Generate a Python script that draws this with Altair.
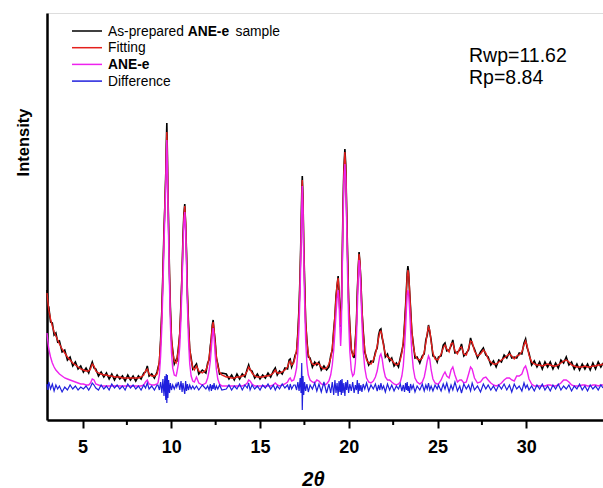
import altair as alt
import pandas as pd

# ---- data (intensity in arbitrary units) ----
two_theta = [
    3.0, 3.05, 3.1, 3.2, 3.3, 3.4, 3.5, 3.6, 3.7, 3.85,
    4.0, 4.15, 4.3, 4.45, 4.6, 4.75, 4.9, 5.05, 5.2, 5.35,
    5.45, 5.55, 5.65, 5.75, 5.9, 6.05, 6.2, 6.35, 6.5, 6.65,
    6.8, 6.95, 7.1, 7.25, 7.4, 7.55, 7.7, 7.85, 8.0, 8.15,
    8.3, 8.45, 8.55, 8.65, 8.75, 8.9, 9.05, 9.2,
    9.25, 9.33, 9.4, 9.47, 9.53, 9.59, 9.64, 9.69, 9.72, 9.75,
    9.78, 9.81, 9.85, 9.9, 9.95, 10.01, 10.08, 10.17, 10.27,
    10.31, 10.4, 10.48, 10.55, 10.61, 10.66, 10.71, 10.76, 10.81, 10.86,
    10.91, 10.97, 11.04, 11.12, 11.21,
    11.3, 11.42, 11.55, 11.75, 11.95,
    12.05, 12.13, 12.2, 12.26, 12.31, 12.36, 12.41, 12.47, 12.54, 12.62,
    12.72, 12.85,
    13.1, 13.25, 13.4, 13.55, 13.7, 13.85, 14.0, 14.15, 14.28, 14.36,
    14.44, 14.55, 14.7, 14.85, 15.0, 15.15, 15.3, 15.45, 15.6, 15.75,
    15.86, 15.97, 16.1, 16.25, 16.4, 16.55, 16.64, 16.7, 16.78, 16.9,
    16.98, 17.06, 17.13, 17.2, 17.26, 17.31, 17.35, 17.38, 17.42, 17.46,
    17.51, 17.57, 17.64, 17.72, 17.82, 17.95, 18.08, 18.2, 18.32, 18.45,
    18.6, 18.75,
    18.88, 18.98, 19.07, 19.15, 19.22, 19.28, 19.34, 19.4, 19.45, 19.5,
    19.54, 19.58, 19.62, 19.67, 19.72, 19.78, 19.83, 19.88, 19.93, 19.99,
    20.06, 20.14, 20.22, 20.3, 20.37, 20.43, 20.48, 20.53, 20.58, 20.63,
    20.68, 20.74, 20.81, 20.9, 21.0, 21.12, 21.25,
    21.38, 21.5, 21.6, 21.68, 21.75, 21.81, 21.88, 21.96, 22.06, 22.18,
    22.3, 22.42, 22.55, 22.68, 22.8, 22.9, 22.99, 23.07, 23.14, 23.2,
    23.25, 23.29, 23.33, 23.37, 23.42, 23.48, 23.55, 23.63, 23.73, 23.85,
    24.0, 24.14, 24.25, 24.34, 24.42, 24.49, 24.56, 24.64, 24.74, 24.86,
    24.98,
    25.05, 25.2, 25.32, 25.42, 25.52, 25.65, 25.76, 25.86, 25.98, 26.12,
    26.25, 26.35, 26.48, 26.62, 26.75, 26.86, 26.95, 27.08, 27.25, 27.42,
    27.58, 27.72, 27.85, 28.0, 28.15, 28.3, 28.45, 28.6, 28.75, 28.9,
    29.05, 29.18, 29.32, 29.46, 29.6, 29.75, 29.87, 29.96, 30.05, 30.15,
    30.3, 30.45, 30.6, 30.75, 30.9, 31.05, 31.2, 31.35, 31.5, 31.65,
    31.8, 31.95, 32.1, 32.25, 32.4, 32.55, 32.7, 32.85, 33.0, 33.15,
    33.3, 33.45, 33.6, 33.75, 33.9, 34.05, 34.2, 34.32,
]

observed = [
    130, 115, 113, 98, 97, 85, 87, 78, 79, 68,
    70, 60, 63, 54, 58, 51, 54, 48, 52, 47,
    53, 58, 52, 51, 44, 48, 43, 47, 41, 46,
    40, 45, 41, 44, 39, 45, 40, 44, 39, 44,
    41, 47, 48, 54, 44, 46, 42, 48,
    52, 57, 80, 110, 148, 189, 215, 246, 275, 297,
    268, 229, 195, 146, 113, 81, 70, 56, 60,
    58, 72, 86, 118, 148, 183, 206, 216, 196, 167,
    125, 97, 70, 62, 51,
    53, 56, 46, 50, 47,
    57, 60, 74, 82, 95, 100, 89, 80, 62, 56,
    46, 47,
    46, 41, 45, 40, 46, 41, 46, 43, 51, 55,
    50, 49, 42, 46, 41, 45, 42, 47, 43, 49,
    52, 45, 49, 46, 52, 51, 60, 61, 53, 59,
    65, 68, 87, 113, 148, 188, 226, 244, 222, 177,
    140, 98, 80, 63, 62, 53, 58, 55, 58, 50,
    54, 50,
    53, 64, 70, 90, 103, 124, 134, 144, 128, 108,
    93, 112, 147, 208, 250, 271, 255, 209, 168, 119,
    94, 70, 66, 62, 80, 96, 128, 150, 168, 156,
    140, 110, 90, 68, 62, 55, 59,
    58, 68, 72, 85, 90, 91, 82, 76, 63, 66,
    59, 62, 54, 57, 53, 62, 69, 76, 96, 114,
    132, 147, 154, 148, 130, 112, 88, 77, 62, 63,
    57, 64, 66, 80, 85, 95, 88, 80, 64, 63,
    58,
    63, 64, 75, 77, 69, 70, 74, 80, 67, 68,
    70, 76, 64, 67, 70, 82, 76, 71, 62, 68,
    72, 65, 63, 55, 59, 53, 60, 58, 65, 62,
    68, 62, 63, 62, 67, 66, 77, 81, 72, 67,
    55, 59, 53, 58, 51, 58, 53, 58, 51, 57,
    52, 60, 57, 63, 55, 58, 51, 56, 50, 56,
    51, 56, 50, 57, 51, 58, 53, 57,
]

fitting = [
    127, 118, 110, 101, 94, 88, 84, 80, 76, 71,
    67, 63, 60, 57, 55, 53, 51, 50, 49, 49,
    51, 56, 54, 49, 47, 46, 45, 45, 44, 44,
    43, 43, 43, 42, 42, 42, 42, 42, 42, 42,
    43, 45, 49, 51, 46, 44, 44, 46,
    50, 60, 78, 108, 145, 186, 217, 243, 268, 288,
    264, 232, 192, 148, 110, 84, 68, 59, 57,
    60, 70, 88, 115, 150, 180, 204, 214, 198, 165,
    128, 95, 72, 60, 53,
    50, 54, 49, 47, 50,
    55, 62, 72, 84, 93, 98, 91, 78, 64, 54,
    48, 45,
    43, 43, 42, 42, 43, 43, 44, 45, 49, 53,
    51, 47, 44, 43, 43, 43, 44, 44, 45, 47,
    50, 47, 47, 48, 50, 53, 58, 59, 55, 57,
    63, 70, 85, 110, 145, 185, 222, 240, 220, 180,
    138, 100, 78, 66, 60, 56, 55, 57, 56, 53,
    51, 52,
    56, 62, 72, 88, 105, 122, 136, 142, 130, 106,
    95, 110, 150, 205, 248, 268, 252, 212, 165, 122,
    92, 72, 64, 66, 78, 98, 125, 152, 166, 158,
    138, 112, 88, 70, 60, 57, 56,
    60, 66, 74, 82, 88, 89, 84, 74, 66, 63,
    62, 60, 57, 55, 56, 60, 67, 78, 94, 112,
    130, 144, 150, 146, 132, 110, 90, 75, 65, 61,
    60, 62, 68, 77, 87, 93, 90, 78, 67, 61,
    60,
    61, 66, 72, 75, 71, 68, 76, 77, 69, 66,
    72, 73, 66, 65, 72, 79, 78, 69, 64, 66,
    70, 67, 61, 58, 56, 56, 58, 60, 62, 64,
    66, 64, 61, 64, 65, 68, 75, 79, 74, 65,
    58, 56, 55, 55, 54, 55, 56, 55, 54, 54,
    55, 57, 59, 60, 58, 55, 54, 53, 53, 53,
    54, 53, 53, 54, 54, 55, 55, 56,
]

ane_e = [
    87, 78, 71, 63, 57, 53, 50, 48, 46, 44,
    42, 41, 40, 39, 38, 37, 36, 36, 35, 35,
    37, 41, 40, 36, 35, 34, 34, 34, 34, 34,
    34, 34, 34, 34, 34, 34, 34, 34, 34, 34,
    34, 35, 38, 40, 36, 35, 35, 36,
    37, 45, 64, 94, 132, 174, 206, 233, 258, 280,
    254, 222, 180, 134, 96, 68, 52, 45, 44,
    47, 56, 74, 102, 138, 170, 196, 208, 190, 154,
    114, 80, 56, 44, 39,
    38, 43, 37, 35, 37,
    42, 49, 59, 72, 84, 92, 83, 66, 51, 41,
    36, 34,
    34, 34, 34, 34, 34, 34, 34, 35, 37, 40,
    39, 36, 34, 34, 34, 34, 34, 34, 34, 35,
    37, 35, 34, 35, 36, 38, 41, 42, 39, 40,
    45, 52, 68, 94, 130, 172, 212, 234, 210, 166,
    120, 80, 56, 45, 40, 38, 37, 40, 39, 36,
    35, 36,
    39, 45, 55, 70, 88, 106, 121, 130, 118, 92,
    74, 90, 135, 190, 236, 256, 240, 196, 146, 100,
    68, 50, 44, 46, 57, 80, 110, 140, 160, 152,
    128, 98, 70, 52, 42, 38, 37,
    39, 43, 49, 57, 64, 66, 61, 51, 43, 40,
    40, 38, 36, 35, 36, 38, 44, 54, 72, 92,
    112, 125, 130, 126, 112, 90, 68, 52, 42, 38,
    36, 38, 43, 51, 59, 64, 61, 50, 41, 37,
    36,
    36, 40, 45, 48, 44, 42, 50, 53, 45, 38,
    40, 40, 37, 38, 46, 53, 51, 42, 37, 38,
    42, 43, 40, 37, 35, 34, 35, 37, 40, 42,
    42, 40, 39, 44, 44, 46, 52, 54, 49, 41,
    36, 34, 34, 34, 34, 34, 35, 35, 34, 34,
    35, 37, 40, 40, 38, 35, 34, 34, 34, 35,
    35, 34, 34, 35, 35, 34, 35, 35,
]

difference = [
    36, 30, 38, 31, 36, 29, 35, 31, 34, 28,
    33, 30, 35, 31, 34, 30, 33, 31, 34, 30,
    33, 37, 35, 32, 30, 35, 31, 34, 30, 36,
    32, 35, 31, 34, 30, 36, 32, 35, 31, 34,
    30, 35, 32, 37, 31, 34, 30, 35,
    35, 30, 38, 27, 41, 24, 44, 20, 46, 17,
    45, 22, 40, 27, 37, 30, 35, 31, 36,
    33, 38, 30, 39, 28, 37, 31, 26, 39, 29,
    36, 30, 35, 31, 34,
    31, 34, 30, 35, 31,
    34, 30, 36, 29, 35, 31, 37, 30, 34, 31,
    35, 30,
    31, 35, 30, 34, 31, 36, 30, 35, 32, 37,
    30, 35, 31, 34, 30, 35, 32, 36, 31, 35,
    30, 34, 31, 36, 32, 35, 30, 36, 31, 35,
    35, 30, 38, 29, 42, 27, 57, 10, 44, 25,
    38, 29, 36, 28, 35, 31, 37, 29, 36, 28,
    38, 27,
    36, 27, 38, 25, 40, 27, 37, 24, 39, 28,
    40, 25, 41, 27, 37, 24, 38, 30, 40, 27,
    36, 29, 38, 27, 35, 30, 40, 26, 37, 29,
    35, 28, 36, 31, 37, 29, 35,
    31, 36, 29, 35, 30, 37, 31, 34, 28, 36,
    30, 35, 29, 34, 31, 36, 29, 35, 28, 37,
    30, 38, 29, 34, 27, 36, 31, 35, 28, 34,
    30, 36, 29, 35, 31, 37, 30, 34, 29, 35,
    31,
    35, 29, 36, 31, 37, 28, 35, 30, 38, 29,
    34, 27, 36, 31, 35, 29, 37, 30, 34, 28,
    36, 31, 35, 30, 34, 29, 35, 31, 36, 30,
    35, 28, 36, 31, 34, 29, 37, 32, 35, 30,
    34, 29, 35, 31, 36, 30, 34, 29, 35, 31,
    36, 30, 34, 31, 35, 29, 34, 31, 36, 30,
    34, 29, 35, 31, 34, 30, 35, 32,
]

n = len(two_theta)
assert len(observed) == n and len(fitting) == n and len(ane_e) == n and len(difference) == n, (
    n, len(observed), len(fitting), len(ane_e), len(difference))

major_ticks = [5, 10, 15, 20, 25, 30]
minor_ticks = [7.5, 12.5, 17.5, 22.5, 27.5]

series_fields = ["observed", "fitting", "ane_e", "difference"]
series_colors = ["#000000", "#e4201c", "#ee22ee", "#2020dd"]
series_widths = [1.6, 1.4, 1.4, 1.2]

df = pd.DataFrame({
    "two_theta": two_theta,
    "observed": observed,
    "fitting": fitting,
    "ane_e": ane_e,
    "difference": difference,
})
one = pd.DataFrame({"k": [0]})
minor_df = pd.DataFrame({"t": minor_ticks})

W, H = 556, 407
FONT = "Liberation Sans"

xscale = alt.Scale(domain=[3, 34.32], nice=False, zero=False)
yscale = alt.Scale(domain=[0, 407], nice=False, zero=False)

x_axis = alt.Axis(
    values=major_ticks, title="2θ", format="d",
    labelFont=FONT, labelFontSize=18, labelFontWeight="bold", labelColor="black",
    labelPadding=10, labelFlush=False,
    tickSize=8, tickWidth=2, tickColor="black",
    domainColor="black", domainWidth=2.5, grid=False,
    titleFont=FONT, titleFontSize=20, titleFontWeight="bold", titleFontStyle="italic",
    titleColor="black", titleX=266, titleY=65, titleAlign="center", titleBaseline="alphabetic",
)
y_axis = alt.Axis(
    title="Intensity", labels=False, ticks=False, grid=False,
    domainColor="black", domainWidth=2.5,
    titleFont=FONT, titleFontSize=16.5, titleFontWeight="bold", titleColor="black",
    titleAngle=270, titleX=-24, titleY=129, titleAlign="center", titleBaseline="middle",
)

layers = []
for field, color, sw in zip(series_fields, series_colors, series_widths):
    layers.append(
        alt.Chart(df).mark_line(color=color, strokeWidth=sw).encode(
            x=alt.X("two_theta:Q", scale=xscale, axis=x_axis),
            y=alt.Y(f"{field}:Q", scale=yscale, axis=y_axis),
        )
    )

# minor ticks on the 2θ axis
layers.append(
    alt.Chart(minor_df).mark_rule(color="black", strokeWidth=2).encode(
        x=alt.X("t:Q", scale=xscale, axis=x_axis),
        y=alt.value(H),
        y2=alt.value(H + 5),
    )
)

# legend (drawn by hand, with the bold sample name)
leg_rows = [18, 34.7, 51.4, 68.1]
for yy, color in zip(leg_rows, series_colors):
    layers.append(
        alt.Chart(one).mark_rule(color=color, strokeWidth=1.5).encode(
            x=alt.value(25), x2=alt.value(55), y=alt.value(yy)
        )
    )

def txt(s, x, y, size=13.8, weight="normal"):
    return alt.Chart(one).mark_text(
        text=s, align="left", baseline="alphabetic", font=FONT,
        fontSize=size, fontWeight=weight, color="black",
    ).encode(x=alt.value(x), y=alt.value(y))

layers += [
    txt("As-prepared", 61, 22.7),
    txt("ANE-e", 140.7, 22.7, weight="bold"),
    txt("sample", 188.5, 22.7),
    txt("Fitting", 61, 39.4),
    txt("ANE-e", 61, 56.1, weight="bold"),
    txt("Difference", 61, 72.8),
    txt("Rwp=11.62", 422, 49, size=19.5),
    txt("Rp=8.84", 422, 71, size=19.5),
]

chart = alt.layer(*layers).properties(
    width=W, height=H,
    autosize=alt.AutoSizeParams(type="none"),
    padding={"left": 47, "top": 13, "right": 0, "bottom": 68},
).configure_view(stroke=None).configure(background="white")

chart.save("out.html", embed_options={"renderer": "svg", "actions": False})
